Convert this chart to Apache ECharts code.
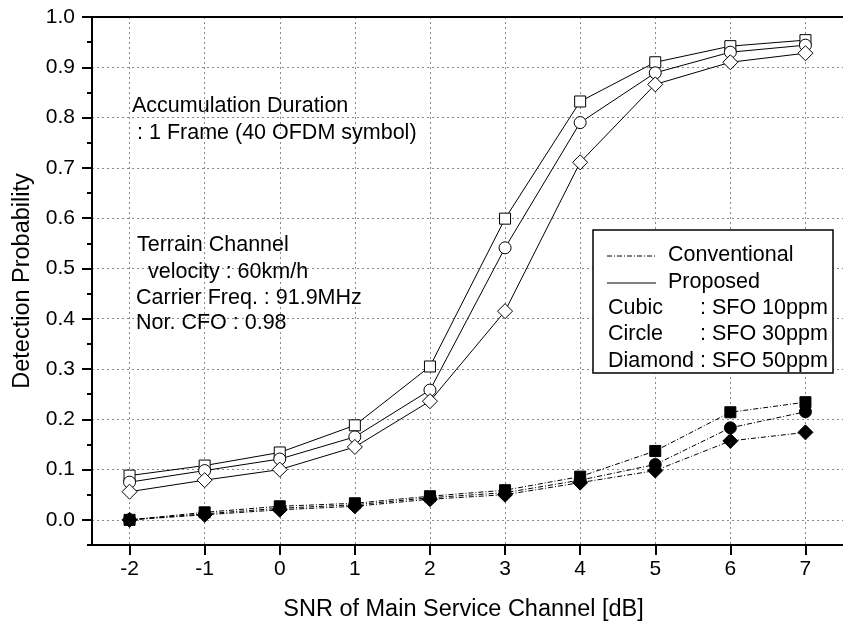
<!DOCTYPE html>
<html><head><meta charset="utf-8">
<script src="https://cdn.jsdelivr.net/npm/echarts@6/dist/echarts.min.js"></script>
<style>html,body{margin:0;padding:0;background:#fff}#c{width:843px;height:627px}</style>
</head><body><div id="c"></div>
<script>
const snr = [-2, -1, 0, 1, 2, 3, 4, 5, 6, 7];
const xTicks = [-2, -1, 0, 1, 2, 3, 4, 5, 6, 7];
const yTicks = [0, 0.1, 0.2, 0.3, 0.4, 0.5, 0.6, 0.7, 0.8, 0.9, 1.0];
const yMinorTicks = [-0.05, 0.05, 0.15, 0.25, 0.35, 0.45, 0.55, 0.65, 0.75, 0.85, 0.95];

const convSfo10 = [0.0, 0.015, 0.027, 0.033, 0.047, 0.059, 0.086, 0.137, 0.214, 0.234];
const convSfo30 = [0.0, 0.012, 0.023, 0.030, 0.044, 0.054, 0.079, 0.110, 0.183, 0.215];
const convSfo50 = [0.0, 0.010, 0.020, 0.027, 0.041, 0.050, 0.074, 0.098, 0.157, 0.174];
const propSfo10 = [0.088, 0.108, 0.134, 0.188, 0.305, 0.599, 0.832, 0.910, 0.942, 0.954];
const propSfo30 = [0.075, 0.098, 0.121, 0.165, 0.258, 0.541, 0.790, 0.889, 0.930, 0.944];
const propSfo50 = [0.056, 0.079, 0.100, 0.145, 0.236, 0.415, 0.711, 0.866, 0.910, 0.928];

const FONT = '"Liberation Sans", Arial, sans-serif';
const FS = 21;
const TFS = 23.5;
const AFS = 21.5;
const pair = arr => snr.map((x, i) => [x, arr[i]]);
const dashDot = [5, 2, 1, 2];

function mkSeries(name, data, symbol, size, filled, dashed) {
  return {
    name, type: 'line', data: pair(data), symbol, symbolSize: size,
    showSymbol: true, animation: false, z: 3,
    lineStyle: { color: '#000', width: 1, type: dashed ? dashDot : 'solid' },
    itemStyle: { color: filled ? '#000' : '#fff', borderColor: '#000', borderWidth: 1, opacity: 1 }
  };
}

const chart = echarts.init(document.getElementById('c'), null, { renderer: 'canvas' });
const txt = (s, x, y) => ({ type: 'text', x, y, z: 20, style: { text: s, fill: '#000', font: AFS + 'px ' + FONT, verticalAlign: 'middle', align: 'left' } });

chart.setOption({
  animation: false,
  backgroundColor: '#fff',
  grid: { left: 92, top: 17, right: -5, bottom: 79, containLabel: false },
  xAxis: [{
    type: 'value', min: -2.5, max: 7.5, position: 'bottom',
    name: 'SNR of Main Service Channel [dB]', nameLocation: 'middle', nameGap: 53,
    nameTextStyle: { fontSize: TFS, fontFamily: FONT, color: '#000', padding: [0, 8, 0, 0] },
    axisLine: { show: true, onZero: false, lineStyle: { color: '#000', width: 2 } },
    axisTick: { show: true, customValues: xTicks, length: 10, lineStyle: { color: '#000', width: 2 } },
    axisLabel: { show: true, customValues: xTicks, fontSize: FS, fontFamily: FONT, color: '#000', margin: 14 },
    splitLine: { show: true, lineStyle: { color: '#888', width: 1, type: [2, 3] } }
  }, {
    type: 'value', min: -2.5, max: 7.5, position: 'top',
    axisLine: { show: true, onZero: false, lineStyle: { color: '#000', width: 2 } },
    axisTick: { show: false }, axisLabel: { show: false }, splitLine: { show: false }
  }],
  yAxis: [{
    type: 'value', min: -0.05, max: 1.0, position: 'left',
    name: 'Detection Probability', nameLocation: 'middle', nameGap: 56, nameRotate: 90,
    nameTextStyle: { fontSize: TFS, fontFamily: FONT, color: '#000' },
    axisLine: { show: true, onZero: false, lineStyle: { color: '#000', width: 2 } },
    axisTick: { show: true, customValues: yTicks, length: 10, lineStyle: { color: '#000', width: 2 } },
    axisLabel: { show: true, customValues: yTicks, fontSize: FS, fontFamily: FONT, color: '#000', margin: 17,
      formatter: v => Number(v).toFixed(1) },
    splitLine: { show: true, lineStyle: { color: '#888', width: 1, type: [2, 3] } }
  }, {
    type: 'value', min: -0.05, max: 1.0, position: 'left',
    axisLine: { show: false, onZero: false },
    axisTick: { show: true, customValues: yMinorTicks, length: 5, lineStyle: { color: '#000', width: 2 } },
    axisLabel: { show: false }, splitLine: { show: false }
  }],
  series: [
    mkSeries('Conventional, SFO 10ppm', convSfo10, 'rect', 11, true, true),
    mkSeries('Conventional, SFO 30ppm', convSfo30, 'circle', 12, true, true),
    mkSeries('Conventional, SFO 50ppm', convSfo50, 'diamond', 15, true, true),
    mkSeries('Proposed, SFO 10ppm', propSfo10, 'rect', 11, false, false),
    mkSeries('Proposed, SFO 30ppm', propSfo30, 'circle', 12, false, false),
    mkSeries('Proposed, SFO 50ppm', propSfo50, 'diamond', 15, false, false)
  ],
  graphic: [
    txt('Accumulation Duration', 132, 106),
    txt(': 1 Frame (40 OFDM symbol)', 137, 133),
    txt('Terrain Channel', 137, 245),
    txt('velocity : 60km/h', 148, 272),
    txt('Carrier Freq. : 91.9MHz', 136, 298),
    txt('Nor. CFO : 0.98', 136, 323),
    { type: 'rect', z: 19, shape: { x: 593, y: 230, width: 240, height: 143 },
      style: { fill: '#fff', stroke: '#000', lineWidth: 1.5 } },
    { type: 'line', z: 20, shape: { x1: 607, y1: 256, x2: 656, y2: 256 },
      style: { stroke: '#000', lineWidth: 1, lineDash: dashDot } },
    { type: 'line', z: 20, shape: { x1: 607, y1: 283, x2: 656, y2: 283 },
      style: { stroke: '#000', lineWidth: 1 } },
    txt('Conventional', 668, 255),
    txt('Proposed', 668, 282),
    txt('Cubic', 608, 308),
    txt(': SFO 10ppm', 700, 308),
    txt('Circle', 608, 334),
    txt(': SFO 30ppm', 700, 334),
    txt('Diamond', 608, 361),
    txt(': SFO 50ppm', 700, 361)
  ]
});
</script></body></html>
